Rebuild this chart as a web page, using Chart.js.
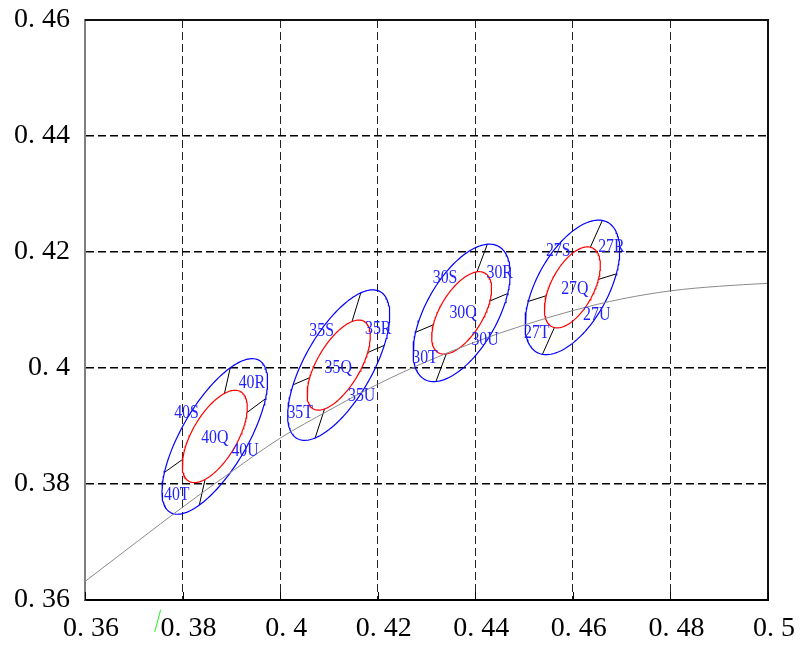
<!DOCTYPE html>
<html><head><meta charset="utf-8">
<script src="https://cdn.jsdelivr.net/npm/chart.js@4"></script>
<style>html,body{margin:0;padding:0;background:#fff}#wrap{width:812px;height:649px}</style>
</head><body><div id="wrap"><canvas id="c"></canvas></div>
<script>
// ---- data ----
const xTickLabels = ['0. 36','0. 38','0. 4','0. 42','0. 44','0. 46','0. 48','0. 5'];
const yTickLabels = ['0. 36','0. 38','0. 4','0. 42','0. 44','0. 46'];

const locusX = [0.36, 0.3709, 0.38, 0.39, 0.40, 0.41, 0.42, 0.43, 0.44, 0.45, 0.46, 0.47, 0.48, 0.49, 0.50];
const locusY = [0.3632, 0.3702, 0.3760, 0.3821, 0.3879, 0.3927, 0.3972, 0.4011, 0.4045, 0.4074, 0.4099, 0.4119, 0.4133, 0.4141, 0.4146];

const groupNames = ['40', '35', '30', '27'];
const centerX = [0.3866, 0.4120, 0.4372, 0.4599];
const centerY = [0.3882, 0.4005, 0.4095, 0.4139];
const outerA = [0.0160, 0.0153, 0.0138, 0.0134];
const outerB = [0.0064, 0.0066, 0.0070, 0.0070];
const outerTheta = [53.5, 54, 53.5, 54];
const innerA = [0.0094, 0.0092, 0.0084, 0.0080];
const innerB = [0.0044, 0.0042, 0.0042, 0.0042];
const innerTheta = [53, 53, 52, 55];
const dividerAngles = [[75, 32, 255, 211], [70, 20, 249, 200], [66, 19.5, 246, 199.5], [62, 14.5, 242, 195]];

const labelSuffix = ['R', 'S', 'Q', 'U', 'T'];
const labelX = [
  [0.3942, 0.3808, 0.3866, 0.3928, 0.3788],
  [0.4201, 0.4085, 0.4119, 0.4167, 0.4041],
  [0.4450, 0.4338, 0.4375, 0.4420, 0.4297],
  [0.4679, 0.4570, 0.4604, 0.4649, 0.4526]
];
const labelY = [
  [0.3974, 0.3922, 0.3879, 0.3856, 0.3781],
  [0.4066, 0.4063, 0.4000, 0.3951, 0.3922],
  [0.4163, 0.4155, 0.4094, 0.4048, 0.4017],
  [0.4209, 0.4201, 0.4135, 0.4091, 0.4060]
];

const strayX = [0.3743, 0.3755];
const strayY = [0.3545, 0.3583];

// ---- geometry helpers (from the ellipse parameters) ----
function ellipsePoints(cx, cy, a, b, thDeg) {
  const th = thDeg * Math.PI / 180, pts = [];
  const n = 160;
  for (let i = 0; i <= n; i++) {
    const t = i / n * 2 * Math.PI;
    pts.push({
      x: cx + a * Math.cos(t) * Math.cos(th) - b * Math.sin(t) * Math.sin(th),
      y: cy + a * Math.cos(t) * Math.sin(th) + b * Math.sin(t) * Math.cos(th)
    });
  }
  return pts;
}
function rayPoint(cx, cy, a, b, thDeg, phiDeg) {
  const th = thDeg * Math.PI / 180, ph = phiDeg * Math.PI / 180;
  const dx = Math.cos(ph), dy = Math.sin(ph);
  const u = dx * Math.cos(th) + dy * Math.sin(th);
  const v = -dx * Math.sin(th) + dy * Math.cos(th);
  const r = 1 / Math.sqrt(u * u / (a * a) + v * v / (b * b));
  return { x: cx + r * dx, y: cy + r * dy };
}

const datasets = [];
datasets.push({
  data: locusX.map((x, i) => ({ x, y: locusY[i] })),
  borderColor: '#8a8a8a', borderWidth: 1, showLine: true, pointRadius: 0,
  cubicInterpolationMode: 'monotone'
});
groupNames.forEach((g, i) => {
  datasets.push({
    data: ellipsePoints(centerX[i], centerY[i], outerA[i], outerB[i], outerTheta[i]),
    borderColor: '#0000ff', borderWidth: 1.2, showLine: true, pointRadius: 0
  });
  datasets.push({
    data: ellipsePoints(centerX[i], centerY[i], innerA[i], innerB[i], innerTheta[i]),
    borderColor: '#ff0000', borderWidth: 1.2, showLine: true, pointRadius: 0
  });
  dividerAngles[i].forEach(phi => {
    datasets.push({
      data: [
        rayPoint(centerX[i], centerY[i], innerA[i], innerB[i], innerTheta[i], phi),
        rayPoint(centerX[i], centerY[i], outerA[i], outerB[i], outerTheta[i], phi)
      ],
      borderColor: '#000000', borderWidth: 1, showLine: true, pointRadius: 0
    });
  });
});
datasets.push({
  data: strayX.map((x, i) => ({ x, y: strayY[i] })),
  borderColor: '#22ee22', borderWidth: 1, showLine: true, pointRadius: 0, clip: false
});

const framePlugin = {
  id: 'frame',
  afterDatasetsDraw(chart) {
    const { ctx, chartArea: { left, right, top, bottom } } = chart;
    const xs = chart.scales.x, ys = chart.scales.y;
    // labels
    ctx.save();
    ctx.font = '18px "Liberation Serif", serif';
    ctx.fillStyle = '#2222ff';
    ctx.textAlign = 'center';
    ctx.textBaseline = 'middle';
    groupNames.forEach((g, i) => {
      labelSuffix.forEach((s, j) => {
        const px = xs.getPixelForValue(labelX[i][j]), py = ys.getPixelForValue(labelY[i][j]);
        ctx.save();
        ctx.translate(px, py);
        ctx.scale(0.88, 1);
        ctx.fillText(g + s, 0, 0);
        ctx.restore();
      });
    });
    ctx.restore();
    // frame top/right + inward ticks
    ctx.save();
    ctx.strokeStyle = '#111';
    ctx.lineWidth = 2;
    ctx.beginPath();
    ctx.moveTo(left, top); ctx.lineTo(right, top); ctx.lineTo(right, bottom);
    ctx.stroke();
    ctx.lineWidth = 1;
    ctx.strokeStyle = '#000';
    ctx.beginPath();
    xs.ticks.forEach(t => {
      const px = Math.round(xs.getPixelForValue(t.value)) + 0.5;
      ctx.moveTo(px, bottom); ctx.lineTo(px, bottom - 8);
    });
    ctx.stroke();
    ctx.restore();
  }
};

const tickFont = { family: '"Liberation Serif", serif', size: 28 };
new Chart(document.getElementById('c'), {
  type: 'scatter',
  data: { datasets },
  options: {
    responsive: true, maintainAspectRatio: false, animation: false,
    layout: { padding: { top: 20, right: 44, left: 0, bottom: 0 } },
    plugins: { legend: { display: false }, tooltip: { enabled: false } },
    scales: {
      x: {
        type: 'linear', min: 0.36, max: 0.5,
        afterFit(s) { s.height = 49; s.paddingLeft = 0; s.paddingRight = 0; },
        ticks: { stepSize: 0.02, autoSkip: false, maxRotation: 0, callback: (v, i) => xTickLabels[i],
                 font: tickFont, color: '#000', padding: 12, labelOffset: 6 },
        grid: { drawTicks: false, lineWidth: 1,
                color: c => (c.index === 0 || c.index === xTickLabels.length - 1) ? 'rgba(0,0,0,0)' : '#222' },
        border: { display: true, color: '#000', width: 2, dash: [8, 4] }
      },
      y: {
        type: 'linear', min: 0.36, max: 0.46,
        afterFit(s) { s.width = 85; s.paddingTop = 0; s.paddingBottom = 0; },
        ticks: { stepSize: 0.02, autoSkip: false, callback: (v, i) => yTickLabels[i],
                 font: tickFont, color: '#000', padding: 15 },
        grid: { drawTicks: false, lineWidth: 1.5,
                color: c => (c.index === 0 || c.index === yTickLabels.length - 1) ? 'rgba(0,0,0,0)' : '#000' },
        border: { display: true, color: '#808080', width: 2, dash: [8, 4] }
      }
    }
  },
  plugins: [framePlugin]
});
</script>
</body></html>
